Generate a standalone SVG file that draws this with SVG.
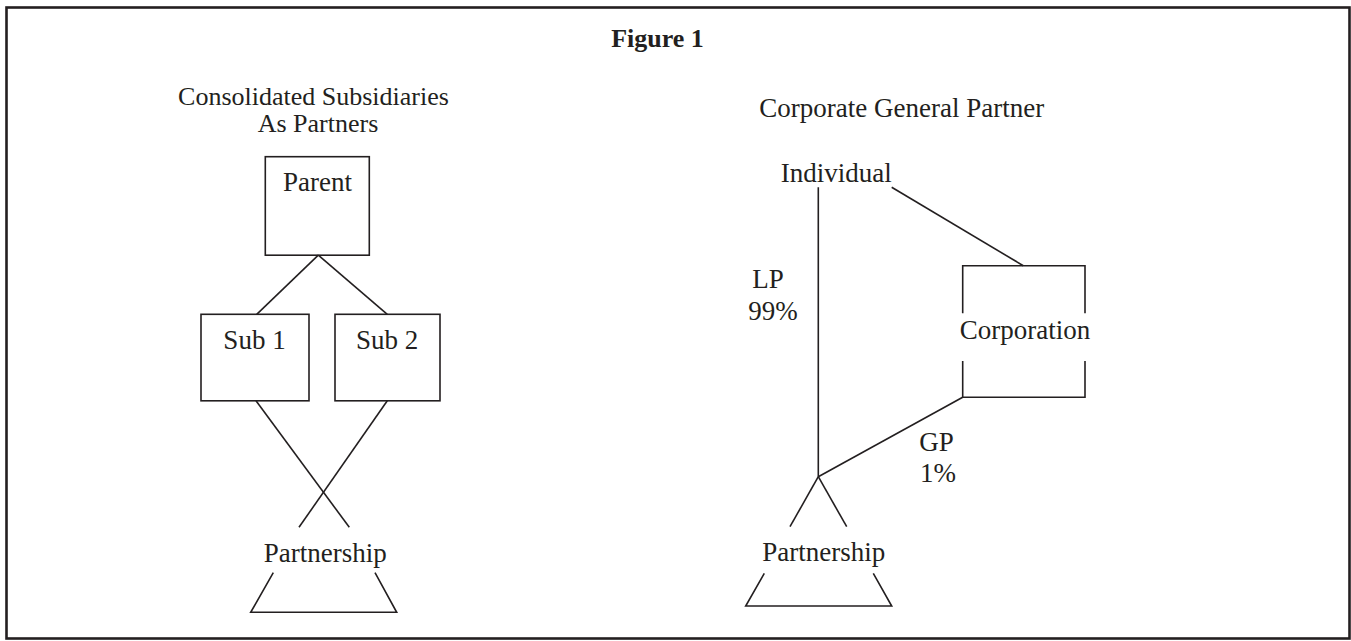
<svg xmlns="http://www.w3.org/2000/svg" width="1351" height="641" viewBox="0 0 1351 641">
<style>
text{font-family:"Liberation Serif","Times New Roman",serif;font-size:27px;fill:#231f20}
.t{font-weight:bold;font-size:26px}
.m{text-anchor:middle}
.h{font-size:26px}
.s{fill:none;stroke:#231f20;stroke-width:1.6}
</style>
<rect x="0" y="0" width="1351" height="641" fill="#fff"/>
<rect x="6.5" y="7.5" width="1343" height="631" fill="none" stroke="#231f20" stroke-width="2.6"/>
<text class="t m" x="657.5" y="47">Figure 1</text>
<g id="left-title">
<text class="m h" x="313.5" y="104.5">Consolidated Subsidiaries</text>
<text class="m h" x="318" y="132">As Partners</text>
</g>
<g id="parent"><rect class="s" x="265.3" y="156.7" width="104" height="98.5"/><text class="m" x="317.5" y="190.7">Parent</text></g>
<g id="sub1"><rect class="s" x="201" y="314.3" width="108" height="86.5"/><text class="m" x="254.5" y="349.3">Sub 1</text></g>
<g id="sub2"><rect class="s" x="335" y="314.3" width="105" height="86.5"/><text class="m" x="387.2" y="349.3">Sub 2</text></g>
<g id="partnership-left"><text class="m" x="325.3" y="561.7">Partnership</text><polyline class="s" points="273.3,572.7 250.7,612.3 396.7,612.3 375,572.7"/></g>
<g id="right-title"><text class="m" x="901.7" y="116.7">Corporate General Partner</text></g>
<g id="individual"><text class="m" x="836.3" y="181.7">Individual</text></g>
<g id="corporation"><path class="s" d="M962.7,313.3 V265.7 H1085 V313.3 M962.7,361 V397.3 H1085 V361"/><text class="m" x="1025" y="339.3">Corporation</text></g>
<g id="partnership-right"><text class="m" x="823.7" y="561">Partnership</text><polyline class="s" points="764.3,573.3 745.7,606 891.7,606 873.3,573.3"/></g>
<g id="connectors">
<line class="s" x1="318.3" y1="255.2" x2="256.7" y2="314.3"/>
<line class="s" x1="318.3" y1="255.2" x2="387.3" y2="314.3"/>
<line class="s" x1="256" y1="400.8" x2="349.3" y2="527.3"/>
<line class="s" x1="387.3" y1="400.8" x2="299" y2="527.3"/>
<line class="s" x1="818.3" y1="187.3" x2="818.3" y2="476.7"/>
<line class="s" x1="891.7" y1="187.3" x2="1023.3" y2="265.7"/>
<line class="s" x1="818.3" y1="476.7" x2="962.7" y2="397.3"/>
<line class="s" x1="818.3" y1="476.7" x2="790" y2="526.7"/>
<line class="s" x1="818.3" y1="476.7" x2="846.7" y2="526.7"/>
<text x="752.3" y="288.3">LP</text>
<text x="748.3" y="320">99%</text>
<text x="919.3" y="450.7">GP</text>
<text x="920" y="481.7">1%</text>
</g>
</svg>
